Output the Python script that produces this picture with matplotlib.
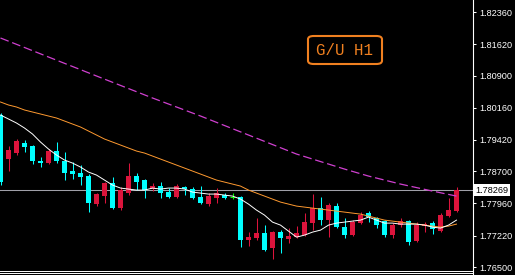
import numpy as np
import matplotlib
matplotlib.use('Agg')
import matplotlib.pyplot as plt
from matplotlib.patches import FancyBboxPatch

# hourly candles, oldest first
opens = [1.79993, 1.78981, 1.79119, 1.79349, 1.79280, 1.78935, 1.78889, 1.79165, 1.78935, 1.78705,
         1.78659, 1.78590, 1.77946, 1.78130, 1.78429, 1.77854, 1.78199, 1.78590, 1.78498, 1.78291,
         1.78360, 1.78222, 1.78107, 1.78337, 1.78291, 1.78107, 1.77946, 1.78084, 1.78153, 1.78107,
         1.78107, 1.77118, 1.77164, 1.77279, 1.76934, 1.77302, 1.77141, 1.77187, 1.77233, 1.77509,
         1.77854, 1.77578, 1.77900, 1.77417, 1.77233, 1.77509, 1.77739, 1.77624, 1.77555, 1.77233,
         1.77463, 1.77555, 1.77095, 1.77440, 1.77509, 1.77325, 1.77670, 1.77785]
highs = [1.80039, 1.79280, 1.79441, 1.79418, 1.79303, 1.79027, 1.79211, 1.79372, 1.79142, 1.78912,
         1.78843, 1.78636, 1.78199, 1.78452, 1.78567, 1.78337, 1.78889, 1.78659, 1.78521, 1.78429,
         1.78452, 1.78314, 1.78406, 1.78360, 1.78337, 1.78360, 1.78199, 1.78314, 1.78199, 1.78199,
         1.78130, 1.77302, 1.77624, 1.77463, 1.77325, 1.77348, 1.77394, 1.77440, 1.77739, 1.78176,
         1.78107, 1.77969, 1.77969, 1.77624, 1.77578, 1.77762, 1.77785, 1.77647, 1.77578, 1.77509,
         1.77624, 1.77578, 1.77532, 1.77532, 1.77555, 1.77739, 1.78084, 1.78337]
lows = [1.78383, 1.78705, 1.79073, 1.79142, 1.78866, 1.78797, 1.78866, 1.78889, 1.78498, 1.78521,
        1.78383, 1.77762, 1.77900, 1.77969, 1.77831, 1.77808, 1.78153, 1.78268, 1.78084, 1.78245,
        1.78084, 1.78084, 1.78084, 1.78153, 1.78061, 1.77946, 1.77900, 1.77969, 1.78061, 1.78061,
        1.76957, 1.76980, 1.77118, 1.76865, 1.76681, 1.76819, 1.77049, 1.77164, 1.77210, 1.77348,
        1.77463, 1.77187, 1.77394, 1.77164, 1.77210, 1.77486, 1.77532, 1.77394, 1.77187, 1.77164,
        1.77417, 1.77003, 1.77072, 1.77302, 1.77256, 1.77302, 1.77647, 1.77762]
closes = [1.78452, 1.79188, 1.79395, 1.79257, 1.78935, 1.78889, 1.79165, 1.78935, 1.78659, 1.78636,
          1.78567, 1.77969, 1.78176, 1.78429, 1.77854, 1.78268, 1.78590, 1.78452, 1.78268, 1.78360,
          1.78199, 1.78107, 1.78360, 1.78291, 1.78084, 1.77969, 1.78130, 1.78199, 1.78084, 1.78107,
          1.77118, 1.77187, 1.77279, 1.76888, 1.77302, 1.77164, 1.77210, 1.77279, 1.77532, 1.77854,
          1.77578, 1.77923, 1.77417, 1.77233, 1.77532, 1.77693, 1.77647, 1.77463, 1.77233, 1.77463,
          1.77555, 1.77072, 1.77463, 1.77486, 1.77371, 1.77693, 1.77808, 1.78269]

# moving averages
ma_fast = [1.79993, 1.79901, 1.79809, 1.79694, 1.79556, 1.79372, 1.79211, 1.79073, 1.78958, 1.78889,
           1.78797, 1.78682, 1.78613, 1.78498, 1.78383, 1.78314, 1.78291, 1.78268, 1.78268, 1.78314,
           1.78291, 1.78314, 1.78314, 1.78291, 1.78222, 1.78199, 1.78176, 1.78176, 1.78153, 1.78130,
           1.78061, 1.77946, 1.77808, 1.77693, 1.77532, 1.77463, 1.77325, 1.77187, 1.77233, 1.77302,
           1.77348, 1.77463, 1.77509, 1.77532, 1.77555, 1.77578, 1.77647, 1.77578, 1.77509, 1.77509,
           1.77486, 1.77486, 1.77486, 1.77463, 1.77417, 1.77394, 1.77463, 1.77578]
ma_mid = [1.80292, 1.80223, 1.80177, 1.80108, 1.80062, 1.80016, 1.79970, 1.79924, 1.79855, 1.79786,
          1.79717, 1.79625, 1.79533, 1.79441, 1.79372, 1.79303, 1.79234, 1.79165, 1.79119, 1.79050,
          1.78981, 1.78912, 1.78843, 1.78774, 1.78705, 1.78636, 1.78567, 1.78498, 1.78452, 1.78406,
          1.78360, 1.78268, 1.78199, 1.78130, 1.78061, 1.77992, 1.77946, 1.77900, 1.77877, 1.77854,
          1.77831, 1.77808, 1.77785, 1.77762, 1.77739, 1.77716, 1.77670, 1.77624, 1.77578, 1.77555,
          1.77532, 1.77509, 1.77486, 1.77463, 1.77440, 1.77417, 1.77440, 1.77486]
slow_idx = [0, 6, 12, 19, 25, 31, 37, 43, 46, 50, 54, 57]
ma_slow = [1.81763, 1.81326, 1.80890, 1.80384, 1.79970, 1.79533, 1.79096, 1.78751, 1.78590, 1.78406,
           1.78245, 1.78130]

price_ticks = [1.82360, 1.81620, 1.80900, 1.80160, 1.79420, 1.78700, 1.77960, 1.77220, 1.76500]
bid = 1.78269
label = 'G/U H1'

BULL = '#dc143c'
BEAR = '#00ffff'
DOJI = '#00ff00'
AXFONT = ['Liberation Sans', 'DejaVu Sans']
AXSIZE = 6.6

W, H = 515, 275
fig = plt.figure(figsize=(W / 100, H / 100), dpi=100, facecolor='black')
ax = fig.add_axes([0, 0, 473 / W, 1])
ax.set_facecolor('black')

x = np.arange(len(opens))
o = np.array(opens); c = np.array(closes)
hi = np.array(highs); lo = np.array(lows)
up = c > o
dn = c < o
flat = c == o

colors = np.where(up, BULL, np.where(dn, BEAR, DOJI))
ax.vlines(x, lo, hi, colors=colors, linewidth=0.75, zorder=3)
body_lo = np.minimum(o, c)
body_h = np.abs(c - o)
ax.bar(x[~flat], body_h[~flat], bottom=body_lo[~flat], width=0.62,
       color=colors[~flat], linewidth=0, zorder=4)
ax.hlines(o[flat], x[flat] - 0.31, x[flat] + 0.31, colors=DOJI, linewidth=0.75, zorder=4)

ax.axhline(bid, color='#a0a0a8', linewidth=0.75, zorder=2)

ax.plot(x, ma_mid, color='#ff9a30', linewidth=0.7, zorder=5)
ax.plot(x, ma_fast, color='white', linewidth=0.7, zorder=5)
ax.plot(slow_idx, ma_slow, color='#d040d0', linewidth=0.9, dashes=(7, 3), zorder=5)

ax.set_xlim(-0.0625, 59.0625)
ax.set_ylim(1.763165, 1.82636)
ax.set_xticks([])

# bottom frame of the chart window (double line)
for yb in (270.5, 273.0):
    ax.plot([0, 1], [1 - yb / H] * 2, color='white', linewidth=0.7,
            transform=ax.transAxes, zorder=6, clip_on=False)

for s in ['left', 'top', 'bottom']:
    ax.spines[s].set_visible(False)
ax.spines['right'].set_color('white')
ax.spines['right'].set_linewidth(0.8)
ax.yaxis.tick_right()
ax.set_yticks(price_ticks)
ax.set_yticklabels(['%.5f' % p for p in price_ticks])
ax.tick_params(axis='y', colors='white', length=2.5, width=0.75, pad=2, labelsize=AXSIZE)
for t in ax.get_yticklabels():
    t.set_family(AXFONT)

ax.text(1.004, bid, '%.5f' % bid, transform=ax.get_yaxis_transform(), va='center', ha='left',
        fontsize=AXSIZE, family=AXFONT, color='black', clip_on=False,
        bbox=dict(boxstyle='square,pad=0.2', fc='white', ec='none'), zorder=10)

# label box
box = FancyBboxPatch((308 / 473, 1 - 64 / 275), 74 / 473, 28 / 275, transform=ax.transAxes,
                     boxstyle='round,pad=0,rounding_size=0.012', fc='black', ec='#f08020',
                     linewidth=1.5, zorder=8)
ax.add_patch(box)
ax.text(345 / 473, 1 - 50 / 275, label, transform=ax.transAxes, ha='center', va='center',
        color='#f08020', fontsize=11.3, family=['Liberation Mono', 'DejaVu Sans Mono'], zorder=9)

fig.savefig('out.png', dpi=100, facecolor='black')
